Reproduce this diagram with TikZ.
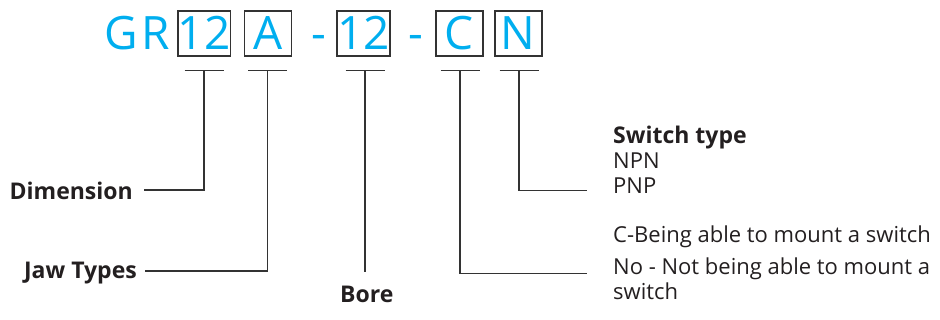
\documentclass[tikz,border=0pt]{standalone}
\usepackage{fontspec}
\setmainfont{Open Sans}
\definecolor{cy}{HTML}{00AEEF}
\definecolor{ln}{HTML}{333333}
\definecolor{tx}{HTML}{231F20}
\begin{document}
\begin{tikzpicture}[x=1pt,y=-1pt,
 codebox/.style={draw=ln, line width=1.8pt, minimum width=47pt, minimum height=45pt, inner sep=0pt, text=cy, font=\fontsize{46}{46}\selectfont},
 codetxt/.style={text=cy, inner sep=0pt, font=\fontsize{46}{46}\selectfont},
 conn/.style={draw=ln, line width=1.3pt},
 lbl/.style={inner sep=0pt, text=tx, font=\fontsize{23}{25}\selectfont\bfseries},
 opt/.style={anchor=base west, inner sep=0pt, text=tx, font=\fontsize{22}{25}\selectfont}]
\path[use as bounding box] (0,0) rectangle (940,320);

% code line
\node[codetxt] (gr) at (137,33.3) {G\kern3pt R};
\node[codebox] (b1) at (204.2,33.3) {12};
\node[codebox] (b2) at (268,33.3) {A};
\node[codetxt, anchor=base] (d1) at (318.5,50) {-};
\node[codebox] (b3) at (363.5,33.3) {12};
\node[codetxt, anchor=base] (d2) at (416,50) {-};
\node[codebox] (b4) at (459.3,33.3) {C};
\node[codebox] (b5) at (518.3,33.3) {N};

% tee points
\coordinate (t1) at (204,70.7);
\coordinate (t2) at (267.5,70.7);
\coordinate (t3) at (365,70.7);
\coordinate (t4) at (460,70.7);
\coordinate (t5) at (519,70.7);
\foreach \t in {t1,t2,t3,t4,t5}
  \draw[conn] ([xshift=-19.5pt]\t) -- ([xshift=19.5pt]\t);

% labels
\node[lbl, anchor=base east] (dim) at (133,200) {Dimension};
\node[lbl, anchor=base east] (jaw) at (137,278.3) {Jaw Types};
\node[lbl, anchor=base] (bore) at (366.8,302.7) {Bore};
\node[lbl, anchor=base west] (sw) at (613,143.5) {Switch type};
\node[opt] (npn) at (613,168.5) {NPN};
\node[opt] (pnp) at (613,193.5) {PNP};
\node[opt] (cb) at (613,242.7) {C-Being able to mount a switch};
\node[opt] (no) at (613,275) {No - Not being able to mount a};
\node[opt] (sw2) at (613,300) {switch};

% connector ends
\coordinate (e1) at (144,190);
\coordinate (e2) at (145,271);
\coordinate (e3) at (365,271.7);
\coordinate (e4) at (587,273.3);
\coordinate (e5) at (587,190.7);

\draw[conn] (t1) |- (e1);
\draw[conn] (t2) |- (e2);
\draw[conn] (t3) -- (e3);
\draw[conn] (t4) |- (e4);
\draw[conn] (t5) |- (e5);
\end{tikzpicture}
\end{document}
